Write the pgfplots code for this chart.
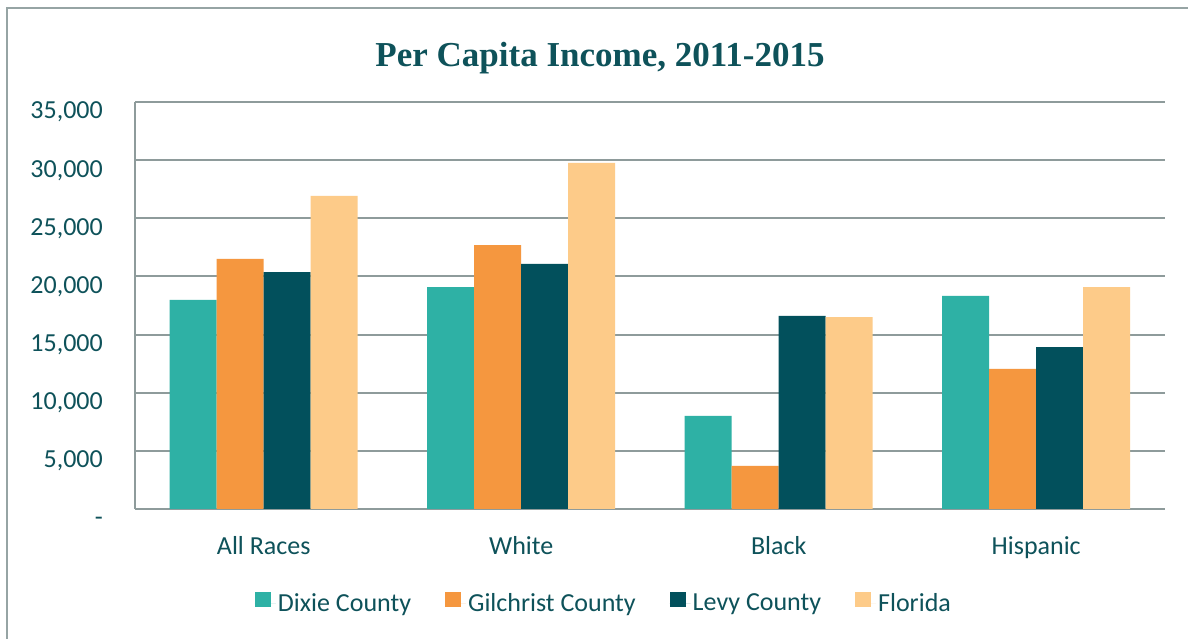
\documentclass[border=0pt]{standalone}
\usepackage{pgfplots}
\usepackage{pgfplotstable}
\pgfplotsset{compat=1.18}
\usepackage{fontspec}
\setmainfont{Carlito}
\newfontfamily\titlefont{Liberation Serif}
\definecolor{txt}{RGB}{14,82,90}
\definecolor{gridgray}{RGB}{142,155,155}
\definecolor{framegray}{RGB}{150,164,164}
\definecolor{dixie}{RGB}{46,177,165}
\definecolor{gil}{RGB}{245,151,63}
\definecolor{levy}{RGB}{2,80,92}
\definecolor{fl}{RGB}{253,203,137}
\pgfplotstableread{
x dixie gil levy fl
0 17980 21500 20380 26920
1 19090 22700 21070 29760
2 8000 3700 16600 16510
3 18320 12040 13930 19090
}\data
\begin{document}
\begin{tikzpicture}
\useasboundingbox (0,0) rectangle (1188pt,639pt);
\fill[white] (0,0) rectangle (1188pt,639pt);
\draw[framegray, line width=2.2pt] (7pt,0) -- (7pt,631pt) -- (1188pt,631pt);
\node[anchor=base, text=txt, font=\titlefont\bfseries\fontsize{35}{40}\selectfont, inner sep=0pt] at (600pt,572pt) {Per Capita Income, 2011-2015};
\begin{axis}[
  at={(135pt,130pt)}, anchor=south west, scale only axis,
  width=1030pt, height=407pt,
  xmin=-0.5, xmax=3.5, ymin=0, ymax=35000,
  scaled y ticks=false,
  ybar=0pt, bar width=47pt,
  axis x line*=bottom, axis y line*=left,
  axis line style={gridgray, line width=2pt},
  ymajorgrids, grid style={gridgray, line width=2pt},
  xtick={0,1,2,3}, xticklabels={All Races, White, Black, Hispanic},
  ytick={0,5000,10000,15000,20000,25000,30000,35000},
  yticklabels={-,{5,000},{10,000},{15,000},{20,000},{25,000},{30,000},{35,000}},
  major tick length=0pt, tick style={draw=none},
  xticklabel style={anchor=base, yshift=-46pt, inner sep=0pt, text=txt, font=\fontsize{26}{31}\selectfont},
  yticklabel style={anchor=base east, xshift=-32pt, yshift=-17pt, inner sep=0pt, text=txt, font=\fontsize{26}{31}\selectfont},
  legend columns=4,
  legend style={at={(0.4553,-0.231)}, anchor=center, draw=none, fill=none,
    font=\fontsize{26}{31}\selectfont, text=txt,
    nodes={inner sep=2pt},
    /tikz/every even column/.append style={column sep=32pt}},
  legend image code/.code={\fill[#1] (0pt,-4pt) rectangle (16pt,11pt); \path (0pt,0pt) -- (21pt,0pt);},
]
\addplot[fill=dixie, draw=none] table[x=x, y=dixie]{\data};
\addplot[fill=gil, draw=none] table[x=x, y=gil]{\data};
\addplot[fill=levy, draw=none] table[x=x, y=levy]{\data};
\addplot[fill=fl, draw=none] table[x=x, y=fl]{\data};
\legend{Dixie County, Gilchrist County, Levy County, Florida}
\end{axis}
\end{tikzpicture}
\end{document}
